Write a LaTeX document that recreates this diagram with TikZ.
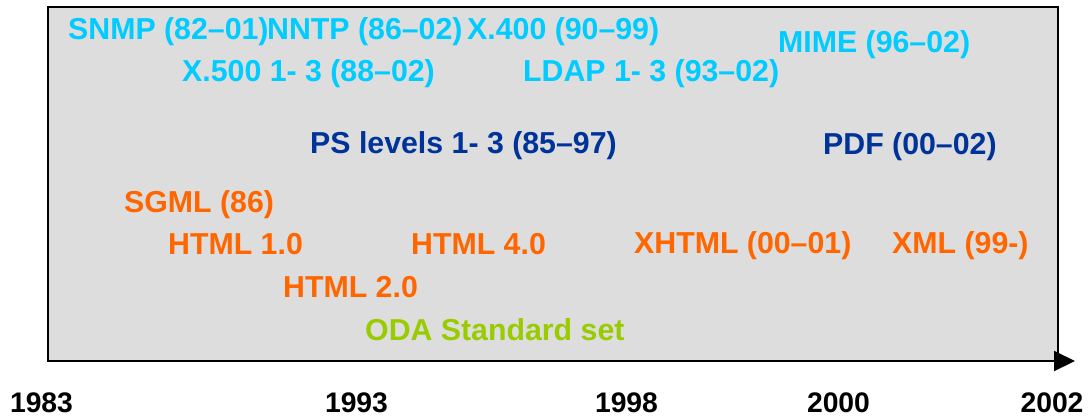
\documentclass[tikz,border=0pt]{standalone}
\usepackage{fontspec}
\setmainfont{Liberation Sans}
\usetikzlibrary{arrows.meta}
\definecolor{cyanT}{HTML}{00CCFF}
\definecolor{blueT}{HTML}{003399}
\definecolor{orangeT}{HTML}{FF6600}
\definecolor{greenT}{HTML}{99CC00}
\definecolor{boxgray}{HTML}{DDDDDD}
\tikzset{
  lbl/.style={anchor=base west, inner sep=0pt, font=\fontsize{30.3}{31}\selectfont\bfseries},
  yearlbl/.style={anchor=base, inner sep=0pt, font=\fontsize{28.3}{30}\selectfont\bfseries, text=black},
  proto/.style={lbl, text=cyanT},
  pagedesc/.style={lbl, text=blueT},
  markup/.style={lbl, text=orangeT},
  odastyle/.style={lbl, text=greenT},
}
\begin{document}
\begin{tikzpicture}[x=1pt,y=-1pt]
\useasboundingbox (0,0) rectangle (1090,416);
% box
\fill[boxgray] (48,7) rectangle (1058,361);
\draw[line width=1.6pt] (48,361) -- (48,7) -- (1058,7) -- (1058,361);
% axis
\coordinate (axstart) at (47,361);
\coordinate (axend) at (1075,361);
\draw[line width=2pt, -{Triangle[length=21pt,width=20pt]}] (axstart) -- (axend);
% cyan protocols
\node[proto] (snmp) at (68,39) {SNMP (82–01)};
\node[proto] (nntp) at (267,39) {NNTP (86–02)};
\node[proto] (x400) at (467,39) {X.400 (90–99)};
\node[proto] (mime) at (778,52) {MIME (96–02)};
\node[proto] (x500) at (182,81) {X.500 1- 3 (88–02)};
\node[proto] (ldap) at (523,81) {LDAP 1- 3 (93–02)};
% blue
\node[pagedesc] (ps) at (310,153) {PS levels 1- 3 (85–97)};
\node[pagedesc] (pdf) at (823,154) {PDF (00–02)};
% orange
\node[markup] (sgml) at (124,212) {SGML (86)};
\node[markup] (html1) at (168,254) {HTML 1.0};
\node[markup] (html4) at (411,254) {HTML 4.0};
\node[markup] (xhtml) at (634,253) {XHTML (00–01)};
\node[markup] (xml) at (892,253) {XML (99-)};
\node[markup] (html2) at (283,297) {HTML 2.0};
% green
\node[odastyle] (oda) at (365,340) {ODA Standard set};
% years
\node[yearlbl] (y1983) at (41.5,412) {1983};
\node[yearlbl] (y1993) at (356.5,412) {1993};
\node[yearlbl] (y1998) at (626.5,412) {1998};
\node[yearlbl] (y2000) at (838.5,412) {2000};
\node[yearlbl] (y2002) at (1052,412) {2002};
\end{tikzpicture}
\end{document}
